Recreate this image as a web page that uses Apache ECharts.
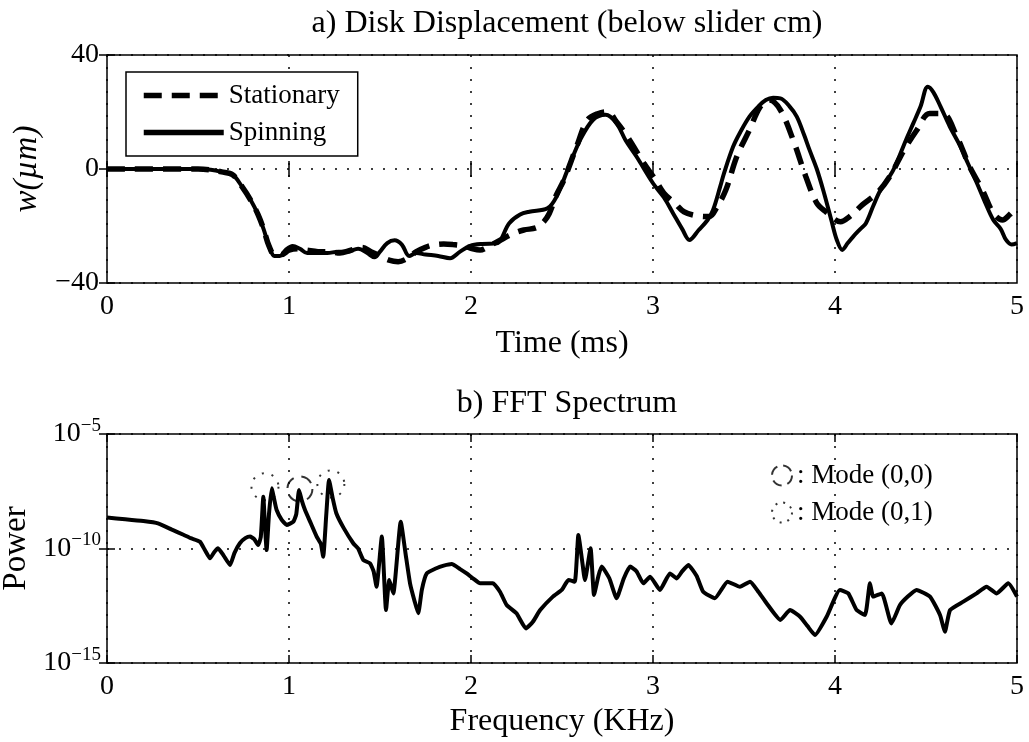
<!DOCTYPE html>
<html>
<head>
<meta charset="utf-8">
<script src="https://cdn.jsdelivr.net/npm/echarts@6/dist/echarts.min.js"></script>
<style>
html,body{margin:0;padding:0;background:#fff;}
#c{width:1029px;height:742px;}
</style>
</head>
<body>
<div id="c"></div>
<script>
// ---- Panel a) Disk displacement (time in ms, displacement in µm) ----
const stationaryT = [0,0.5,0.57,0.63,0.69,0.74,0.79,0.83,0.86,0.89,0.92,0.96,1.00,1.05,1.10,1.16,1.22,1.28,1.34,1.40,1.45,1.50,1.55,1.60,1.65,1.70,1.75,1.79,1.85,1.90,1.96,2.01,2.05,2.10,2.16,2.22,2.29,2.36,2.40,2.43,2.47,2.51,2.58,2.64,2.70,2.75,2.80,2.86,2.95,3.01,3.06,3.12,3.17,3.25,3.31,3.35,3.40,3.46,3.53,3.59,3.64,3.70,3.77,3.84,3.90,3.95,4.03,4.08,4.15,4.23,4.30,4.38,4.45,4.52,4.59,4.67,4.74,4.81,4.87,4.92,4.96,5.0];
const stationaryW = [0,0,-0.3,-1,-2,-6,-11,-16,-21,-27,-30,-30,-28.5,-28,-28.5,-29,-29,-29.5,-28.5,-27.5,-29,-30.5,-32,-32.5,-31.4,-29,-27.5,-26.7,-26.3,-26.5,-27,-28,-28.4,-27,-25,-23,-21.4,-20.6,-18.5,-15.6,-9,-3.9,7.8,17.2,19.5,20.1,16.5,11.3,2,-3.5,-8.5,-12,-15,-16.5,-16.7,-13.5,-7.4,4.3,13.7,21.9,24.2,20.7,10.2,-2.7,-12,-15,-18.5,-16.7,-12.6,-8.5,-2.7,6.7,13.7,19.5,19.5,11.3,0.8,-7.4,-15.5,-17.9,-16,-13.2];
const spinningT = [0,0.5,0.57,0.63,0.69,0.74,0.79,0.83,0.86,0.89,0.92,0.95,0.98,1.02,1.06,1.10,1.15,1.21,1.27,1.32,1.38,1.43,1.47,1.50,1.54,1.58,1.62,1.66,1.70,1.75,1.82,1.885,1.94,1.995,2.06,2.14,2.21,2.27,2.32,2.42,2.47,2.53,2.60,2.67,2.74,2.80,2.85,2.91,3.0,3.06,3.11,3.16,3.2,3.25,3.30,3.33,3.37,3.39,3.44,3.48,3.53,3.58,3.62,3.66,3.70,3.75,3.79,3.83,3.86,3.90,3.94,3.98,4.01,4.04,4.07,4.10,4.14,4.17,4.21,4.25,4.32,4.39,4.43,4.47,4.51,4.54,4.58,4.63,4.69,4.73,4.78,4.82,4.87,4.91,4.94,4.97,5.0];
const spinningW = [0,0,-0.3,-1,-2,-6,-11,-16,-21,-27,-30.5,-30.5,-28.5,-27,-28,-29.5,-29.5,-29.5,-29,-29,-28,-29.5,-31,-29,-26,-25,-26.5,-30.5,-29.5,-30,-30.5,-31.3,-29,-27,-26.3,-26.1,-19,-16,-15,-13.8,-9.7,-0.4,10.2,17.2,19,16,10,4.3,-5,-10,-15.5,-21,-24.9,-21.5,-17.9,-14.4,-6,-1.5,7.8,13,18.4,22,24.2,25,24.8,22,18.4,12,6.7,0,-8.5,-18,-24.9,-28.4,-26,-23.7,-21,-19,-13,-7.4,-0.4,10.2,16,21.9,28.9,27,21.9,15,7.8,2,-5,-11,-17.9,-21,-24.9,-26.5,-26];
const timeTicks = [0,1,2,3,4,5];
const dispTicks = [-40,0,40];

// ---- Panel b) FFT spectrum (frequency in KHz, log10 of power) ----
const fftFreq = [0,0.1,0.2,0.28,0.36,0.42,0.46,0.51,0.54,0.566,0.59,0.61,0.64,0.676,0.70,0.73,0.76,0.786,0.81,0.83,0.845,0.859,0.868,0.877,0.89,0.905,0.92,0.932,0.96,0.987,1.024,1.04,1.055,1.07,1.088,1.12,1.152,1.175,1.188,1.205,1.22,1.24,1.26,1.30,1.353,1.38,1.408,1.445,1.465,1.481,1.51,1.533,1.551,1.573,1.614,1.64,1.665,1.69,1.71,1.73,1.757,1.81,1.85,1.894,1.94,1.976,2.01,2.05,2.12,2.16,2.196,2.25,2.302,2.34,2.38,2.45,2.50,2.535,2.57,2.59,2.61,2.626,2.657,2.676,2.70,2.718,2.76,2.80,2.84,2.874,2.91,2.947,2.984,3.038,3.093,3.13,3.16,3.194,3.24,3.276,3.34,3.41,3.478,3.533,3.58,3.625,3.70,3.753,3.808,3.85,3.89,3.954,4.027,4.073,4.119,4.165,4.192,4.21,4.257,4.31,4.357,4.40,4.448,4.522,4.577,4.604,4.632,4.705,4.778,4.833,4.888,4.952,5.0];
const fftLog10Power = [-8.65,-8.72,-8.8,-8.9,-9.19,-9.4,-9.55,-9.70,-10.1,-10.43,-10.15,-9.99,-10.3,-10.72,-10.2,-9.77,-9.55,-9.48,-9.6,-9.85,-9.5,-7.74,-9.0,-10.07,-8.5,-7.37,-7.9,-8.32,-8.75,-8.97,-8.83,-8.5,-7.45,-7.9,-8.32,-8.9,-9.48,-9.8,-10.36,-8.5,-7.01,-7.8,-8.46,-9.1,-9.77,-10.0,-10.50,-10.65,-11.0,-11.67,-9.48,-12.69,-11.38,-11.96,-8.83,-10.2,-11.52,-12.3,-12.83,-11.8,-11.09,-10.86,-10.75,-10.68,-10.9,-11.09,-11.3,-11.52,-11.52,-11.9,-12.47,-12.83,-13.49,-13.2,-12.69,-12.1,-11.8,-11.38,-11.45,-9.41,-10.5,-11.38,-9.99,-12.03,-11.2,-10.79,-11.3,-12.17,-11.3,-10.79,-11.0,-11.52,-11.23,-11.81,-11.09,-11.31,-11.0,-10.72,-11.2,-11.89,-12.17,-11.45,-11.67,-11.45,-11.9,-12.40,-13.12,-12.69,-12.98,-13.4,-13.78,-12.98,-11.81,-11.96,-12.69,-12.90,-11.52,-12.1,-11.96,-13.27,-12.47,-12.1,-11.81,-12.10,-12.90,-13.63,-12.69,-12.32,-11.96,-11.67,-11.96,-11.52,-12.10];
const mode00Freq = [1.06];
const mode00Log10Power = [-7.4];
const mode01Freq = [0.868, 1.23];
const mode01Log10Power = [-7.3, -7.18];
const freqTicks = [0,1,2,3,4,5];
const powerTickExponents = [-15,-10,-5];

const FONT = "'Liberation Serif','Times New Roman',serif";
const zip = (a, b) => a.map((v, i) => [v, b[i]]);
const toPow = (fs, ls) => fs.map((f, i) => [f, Math.pow(10, ls[i])]);
const dotted = { type: [2, 10], color: '#000', width: 1.5 };
const tickStyle = { show: true, inside: true, length: 8, lineStyle: { color: '#000', width: 1.5 } };
const lbl = { color: '#000', fontFamily: FONT, fontSize: 28 };
const minus = s => String(s).replace('-', '\u2212');
const dashed00 = [12, 8];
const dotted01 = [2, 8];

const chart = echarts.init(document.getElementById('c'), null, { renderer: 'canvas' });
chart.setOption({
  backgroundColor: '#fff',
  animation: false,
  title: [
    { text: 'a) Disk Displacement (below slider cm)', left: 562, top: 3, textAlign: 'center',
      textStyle: { fontFamily: FONT, fontSize: 32, fontWeight: 'normal', color: '#000' } },
    { text: 'b) FFT Spectrum', left: 562, top: 383, textAlign: 'center',
      textStyle: { fontFamily: FONT, fontSize: 32, fontWeight: 'normal', color: '#000' } }
  ],
  legend: [
    { data: ['Stationary', 'Spinning'], left: 126, top: 72, orient: 'vertical',
      itemWidth: 80, itemHeight: 14, itemGap: 10, padding: [10, 18, 10, 15],
      borderColor: '#000', borderWidth: 1.5, backgroundColor: '#fff',
      lineStyle: { width: 5.5 },
      itemStyle: { color: 'rgba(0,0,0,0)', borderWidth: 0, opacity: 0 },
      textStyle: { fontFamily: FONT, fontSize: 27, color: '#000' } },
    { left: 766, top: 457, orient: 'vertical',
      itemWidth: 20, itemHeight: 20, itemGap: 10, icon: 'circle',
      data: [
        { name: ': Mode (0,0)', itemStyle: { color: 'rgba(0,0,0,0)', borderColor: '#000', borderWidth: 2, borderType: [10, 6] } },
        { name: ': Mode (0,1)', itemStyle: { color: 'rgba(0,0,0,0)', borderColor: '#000', borderWidth: 2, borderType: [2, 6] } }
      ],
      textStyle: { fontFamily: FONT, fontSize: 27, color: '#000' } }
  ],
  grid: [
    { left: 107, right: 12, top: 55, height: 228, show: true, borderColor: '#000', borderWidth: 1.5, outerBoundsMode: 'none', containLabel: false },
    { left: 107, right: 12, top: 434, height: 229, show: true, borderColor: '#000', borderWidth: 1.5, outerBoundsMode: 'none', containLabel: false }
  ],
  xAxis: [
    { gridIndex: 0, type: 'value', min: timeTicks[0], max: timeTicks[timeTicks.length - 1], interval: 1,
      axisLine: { show: false }, axisTick: tickStyle, splitLine: { show: true, lineStyle: dotted },
      axisLabel: Object.assign({ margin: 10 }, lbl),
      name: 'Time (ms)', nameLocation: 'middle', nameGap: 45,
      nameTextStyle: { fontFamily: FONT, fontSize: 32, color: '#000' } },
    { gridIndex: 0, type: 'value', position: 'top', min: 0, max: 5, interval: 1,
      axisLine: { show: false }, axisTick: tickStyle, splitLine: { show: false }, axisLabel: { show: false } },
    { gridIndex: 1, type: 'value', min: freqTicks[0], max: freqTicks[freqTicks.length - 1], interval: 1,
      axisLine: { show: false }, axisTick: tickStyle, splitLine: { show: true, lineStyle: dotted },
      axisLabel: Object.assign({ margin: 10 }, lbl),
      name: 'Frequency (KHz)', nameLocation: 'middle', nameGap: 43,
      nameTextStyle: { fontFamily: FONT, fontSize: 32, color: '#000' } },
    { gridIndex: 1, type: 'value', position: 'top', min: 0, max: 5, interval: 1,
      axisLine: { show: false }, axisTick: tickStyle, splitLine: { show: false }, axisLabel: { show: false } }
  ],
  yAxis: [
    { gridIndex: 0, type: 'value', min: dispTicks[0], max: dispTicks[dispTicks.length - 1], interval: 40,
      axisLine: { show: false }, axisTick: tickStyle, splitLine: { show: true, lineStyle: dotted },
      axisLabel: Object.assign({ margin: 8, formatter: v => minus(v) }, lbl),
      name: 'w(\u00b5m)', nameLocation: 'middle', nameGap: 60, nameRotate: 90,
      nameTextStyle: { fontFamily: FONT, fontSize: 33, fontStyle: 'italic', color: '#000' } },
    { gridIndex: 0, type: 'value', position: 'right', min: -40, max: 40, interval: 40,
      axisLine: { show: false }, axisTick: tickStyle, splitLine: { show: false }, axisLabel: { show: false } },
    { gridIndex: 1, type: 'log', logBase: 10, min: Math.pow(10, powerTickExponents[0]), max: Math.pow(10, powerTickExponents[2]), interval: 5,
      axisLine: { show: false }, axisTick: tickStyle, splitLine: { show: true, lineStyle: dotted },
      axisLabel: {
        margin: 6, color: '#000', fontFamily: FONT,
        formatter: v => { const e = Math.round(Math.log10(v)); return '{b|10}{s|' + minus(e) + '}'; },
        rich: { b: { fontFamily: FONT, fontSize: 28, color: '#000' },
                s: { fontFamily: FONT, fontSize: 19, color: '#000', padding: [0, 0, 16, 0] } }
      },
      name: 'Power', nameLocation: 'middle', nameGap: 66, nameRotate: 90,
      nameTextStyle: { fontFamily: FONT, fontSize: 33, color: '#000' } },
    { gridIndex: 1, type: 'log', logBase: 10, position: 'right', min: 1e-15, max: 1e-5, interval: 5,
      axisLine: { show: false }, axisTick: tickStyle, splitLine: { show: false }, axisLabel: { show: false } }
  ],
  series: [
    { name: 'Stationary', type: 'line', xAxisIndex: 0, yAxisIndex: 0, data: zip(stationaryT, stationaryW),
      symbol: 'none', smooth: 0.35, lineStyle: { color: '#000', width: 5.5, type: [18, 10] }, itemStyle: { color: '#000' }, z: 3 },
    { name: 'Spinning', type: 'line', xAxisIndex: 0, yAxisIndex: 0, data: zip(spinningT, spinningW),
      symbol: 'none', smooth: 0.35, lineStyle: { color: '#000', width: 4 }, itemStyle: { color: '#000' }, z: 4 },
    { name: 'FFT', type: 'line', xAxisIndex: 2, yAxisIndex: 2, data: toPow(fftFreq, fftLog10Power),
      symbol: 'none', smooth: 0.15, lineStyle: { color: '#000', width: 4 }, z: 3 },
    { name: ': Mode (0,0)', type: 'scatter', xAxisIndex: 2, yAxisIndex: 2, data: toPow(mode00Freq, mode00Log10Power),
      symbol: 'circle', symbolSize: 25,
      itemStyle: { color: 'rgba(0,0,0,0)', borderColor: '#000', borderWidth: 2, borderType: dashed00 }, z: 5 },
    { name: ': Mode (0,1)', type: 'scatter', xAxisIndex: 2, yAxisIndex: 2, data: toPow(mode01Freq, mode01Log10Power),
      symbol: 'circle', symbolSize: 27,
      itemStyle: { color: 'rgba(0,0,0,0)', borderColor: '#000', borderWidth: 2, borderType: dotted01 }, z: 5 }
  ]
});
</script>
</body>
</html>
